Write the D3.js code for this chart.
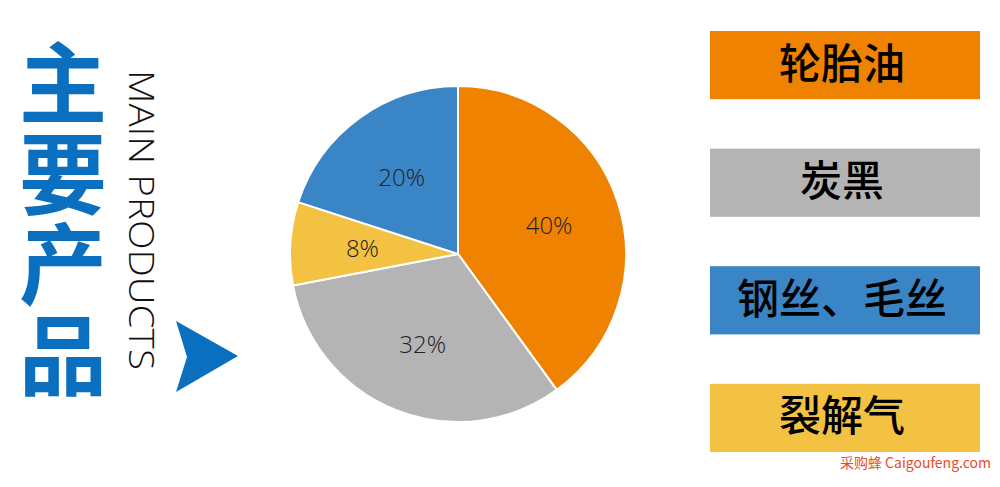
<!DOCTYPE html>
<html>
<head>
<meta charset="utf-8">
<script src="https://cdn.jsdelivr.net/npm/d3@7"></script>
<style>
  html, body { margin: 0; padding: 0; background: #ffffff; }
  svg { display: block; }
</style>
</head>
<body>
<svg id="chart" width="1000" height="487"></svg>
<script>
// ---- data ----
const categories = ["轮胎油", "炭黑", "钢丝、毛丝", "裂解气"];
const values = [40, 32, 20, 8];
const colors = ["#EF8200", "#B4B4B4", "#3A85C6", "#F4C242"];
const pieOrder = ["轮胎油", "炭黑", "裂解气", "钢丝、毛丝"];   // clockwise from 12 o'clock
const titleText = "主要产品";
const subtitle = "MAIN PRODUCTS";
const watermark = "采购蜂 Caigoufeng.com";

const svg = d3.select("#chart");
const blue = "#0B6FBF";

// ---- left title (vertical writing) ----
svg.append("text")
  .attr("x", 63)
  .attr("y", 39)
  .style("writing-mode", "vertical-rl")
  .attr("font-family", "'Noto Sans CJK SC', sans-serif")
  .attr("font-weight", 700)
  .attr("font-size", 88)
  .attr("letter-spacing", 2.5)
  .attr("fill", blue)
  .text(titleText);

svg.append("text")
  .attr("transform", "translate(129,70) rotate(90)")
  .attr("font-family", "'Open Sans', Lato, sans-serif")
  .attr("font-weight", 300)
  .attr("font-size", 34)
  .attr("textLength", 300)
  .attr("lengthAdjust", "spacingAndGlyphs")
  .attr("fill", "#111")
  .text(subtitle);

// arrow
svg.append("path")
  .attr("d", d3.line()([[176, 321], [238, 356], [176, 392], [187, 357]]) + "Z")
  .attr("fill", blue);

// ---- pie ----
const cx = 458, cy = 254, r = 168;
const pieData = pieOrder.map(name => {
  const i = categories.indexOf(name);
  return { name, value: values[i], color: colors[i] };
});
const pie = d3.pie().sort(null).value(d => d.value);
const arcs = pie(pieData);
const arc = d3.arc().innerRadius(0).outerRadius(r);
const labelArc = d3.arc().innerRadius(r * 0.57).outerRadius(r * 0.57);
const total = d3.sum(values);

const g = svg.append("g").attr("transform", `translate(${cx},${cy})`);
g.selectAll("path").data(arcs).join("path")
  .attr("d", arc)
  .attr("fill", d => d.data.color)
  .attr("stroke", "#ffffff")
  .attr("stroke-width", 2)
  .attr("stroke-linejoin", "round");

g.selectAll("text").data(arcs).join("text")
  .attr("transform", d => `translate(${labelArc.centroid(d)})`)
  .attr("text-anchor", "middle")
  .attr("dominant-baseline", "central")
  .attr("font-family", "'Open Sans', Lato, sans-serif")
  .attr("font-weight", 300)
  .attr("font-size", 24)
  .attr("fill", "#222")
  .text(d => Math.round(d.data.value / total * 100) + "%");

// ---- legend boxes ----
const ly = d3.scaleBand().domain(categories).range([31, 452]).paddingInner(0.42);
const leg = svg.append("g");
leg.selectAll("rect").data(categories).join("rect")
  .attr("x", 710)
  .attr("y", d => ly(d))
  .attr("width", 270)
  .attr("height", ly.bandwidth())
  .attr("fill", (d, i) => colors[i]);
leg.selectAll("text").data(categories).join("text")
  .attr("x", 842)
  .attr("y", d => ly(d) + ly.bandwidth() / 2 - 5)
  .attr("text-anchor", "middle")
  .attr("dominant-baseline", "central")
  .attr("font-family", "'Noto Sans CJK SC', sans-serif")
  .attr("font-weight", 500)
  .attr("font-size", 42)
  .attr("fill", "#000")
  .text(d => d);

// ---- watermark ----
svg.append("text")
  .attr("x", 991)
  .attr("y", 462)
  .attr("text-anchor", "end")
  .attr("dominant-baseline", "central")
  .attr("font-family", "'Noto Sans CJK SC', 'Open Sans', sans-serif")
  .attr("font-size", 14)
  .attr("fill", "#EA4A2C")
  .text(watermark);
</script>
</body>
</html>
